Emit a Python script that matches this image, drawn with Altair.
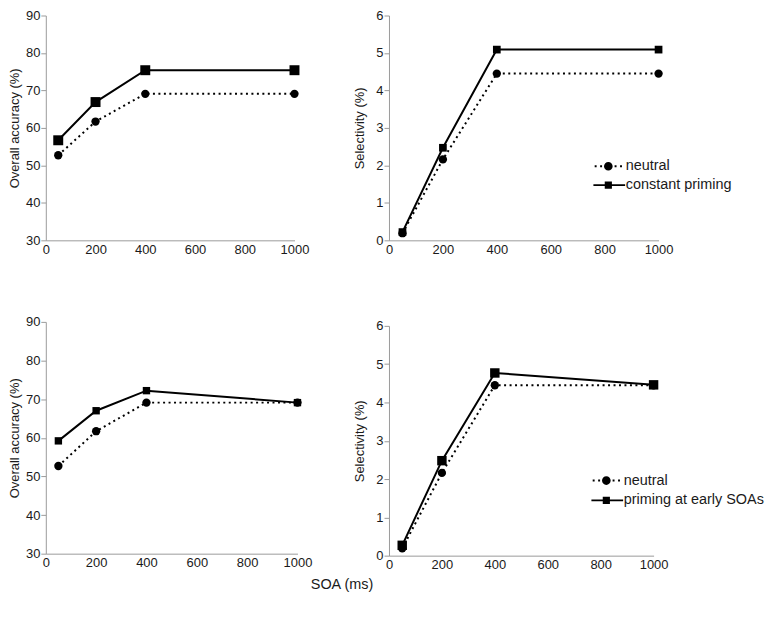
import altair as alt
import pandas as pd

# ---------------- data ----------------
soa = [50, 200, 400, 1000]
x_ticks = [0, 200, 400, 600, 800, 1000]

acc_neutral = [52.7, 61.7, 69.1, 69.1]
acc_constant = [56.7, 66.9, 75.4, 75.4]
acc_early = [59.2, 67.0, 72.2, 69.1]

sel_neutral = [0.19, 2.16, 4.45, 4.45]
sel_constant = [0.22, 2.47, 5.09, 5.09]
sel_early = [0.27, 2.48, 4.77, 4.46]

acc_ticks = [30, 40, 50, 60, 70, 80, 90]
sel_ticks = [0, 1, 2, 3, 4, 5, 6]

FONT = "Liberation Sans"
TXT = "#1a1a1a"
AX = "#9a9a9a"

# legend symbols (custom paths, unit = sqrt(size)/2)
def dot(c):
    return f"M{c-0.13:.2f},-0.13h0.26v0.26h-0.26Z"

CIRCLE_LEG = "M-0.58,0A0.58,0.58 0 1,0 0.58,0A0.58,0.58 0 1,0 -0.58,0Z" + "".join(
    dot(c) for c in (-1.7, -0.97, 0.97, 1.7))
SQUARE_LEG = "M-2,-0.12H2.25V0.12H-2Z" + "M-0.48,-0.48H0.48V0.48H-0.48Z"

AXSTYLE = dict(grid=False, labelFont=FONT, titleFont=FONT, labelFontSize=13,
               titleFontSize=13, titleFontWeight="normal", labelColor=TXT,
               titleColor=TXT, domainColor=AX, tickColor=AX, domainWidth=1,
               tickWidth=1, labelFlush=False, format="d")


def panel(neutral, other, other_name, ydom, yticks, ytitle, w, h,
          sq_size, title_pad, legend_xy=None):
    df = pd.DataFrame({
        "soa": soa + soa,
        "value": neutral + other,
        "series": ["neutral"] * len(soa) + [other_name] * len(soa),
    })
    base = alt.Chart(df)
    x = alt.X("soa:Q", scale=alt.Scale(domain=[0, 1000], nice=False, zero=False),
              axis=alt.Axis(values=x_ticks, title=None, tickSize=0,
                            labelPadding=3, **AXSTYLE))
    y = alt.Y("value:Q", scale=alt.Scale(domain=ydom, nice=False, zero=False),
              axis=alt.Axis(values=yticks, title=ytitle, tickSize=5,
                            labelPadding=1, titlePadding=title_pad, **AXSTYLE))
    neu = base.transform_filter(alt.datum.series == "neutral")
    oth = base.transform_filter(alt.datum.series == other_name)
    layers = [
        neu.mark_line(color="black", strokeWidth=2, strokeDash=[2, 3.5]).encode(x=x, y=y),
        oth.mark_line(color="black", strokeWidth=2).encode(x=x, y=y),
        neu.mark_point(shape="circle", filled=True, color="black", size=70, opacity=1).encode(x=x, y=y),
        oth.mark_point(shape="square", filled=True, color="black", size=sq_size, opacity=1).encode(x=x, y=y),
    ]
    if legend_xy is not None:
        leg = base.transform_filter("false").mark_point(
            filled=True, color="black", opacity=1).encode(
            x=x, y=y,
            shape=alt.Shape("series:N",
                            scale=alt.Scale(domain=["neutral", other_name],
                                            range=[CIRCLE_LEG, SQUARE_LEG]),
                            legend=alt.Legend(
                                title=None, orient="none",
                                legendX=legend_xy[0], legendY=legend_xy[1],
                                symbolSize=225, symbolFillColor="black",
                                symbolStrokeWidth=0, labelOffset=10,
                                rowPadding=legend_xy[2], padding=0,
                                labelFont=FONT, labelFontSize=14.5,
                                labelColor=TXT)))
        layers.append(leg)
    return alt.layer(*layers).properties(width=w, height=h)


tl = panel(acc_neutral, acc_constant, "constant priming", [30, 90], acc_ticks,
           "Overall accuracy (%)", 250, 226, 100, 4)
bl = panel(acc_neutral, acc_early, "priming at early SOAs", [30, 90], acc_ticks,
           "Overall accuracy (%)", 253, 233, 55, 4)
tr = panel(sel_neutral, sel_constant, "constant priming", [0, 6], sel_ticks,
           "Selectivity (%)", 271, 226, 60, 9, legend_xy=(213, 144, 4))
br = panel(sel_neutral, sel_early, "priming at early SOAs", [0, 6], sel_ticks,
           "Selectivity (%)", 266, 231, 90, 9, legend_xy=(211, 148, 5))

left = alt.vconcat(tl, bl, spacing=60).resolve_scale(
    shape="independent").resolve_legend(shape="independent")
right = alt.vconcat(tr, br, spacing=64).resolve_scale(
    shape="independent").resolve_legend(shape="independent")

chart = alt.hconcat(left, right, spacing=41).resolve_scale(
    shape="independent").resolve_legend(shape="independent").properties(
    padding=0,
    background="white",
    title=alt.TitleParams("SOA (ms)", orient="bottom", anchor="middle",
                          fontSize=14.5, fontWeight="normal", font=FONT,
                          color=TXT, offset=7, dx=-45),
).configure_view(stroke=None)

chart.save("out.html", embed_options={"renderer": "svg", "actions": False})
